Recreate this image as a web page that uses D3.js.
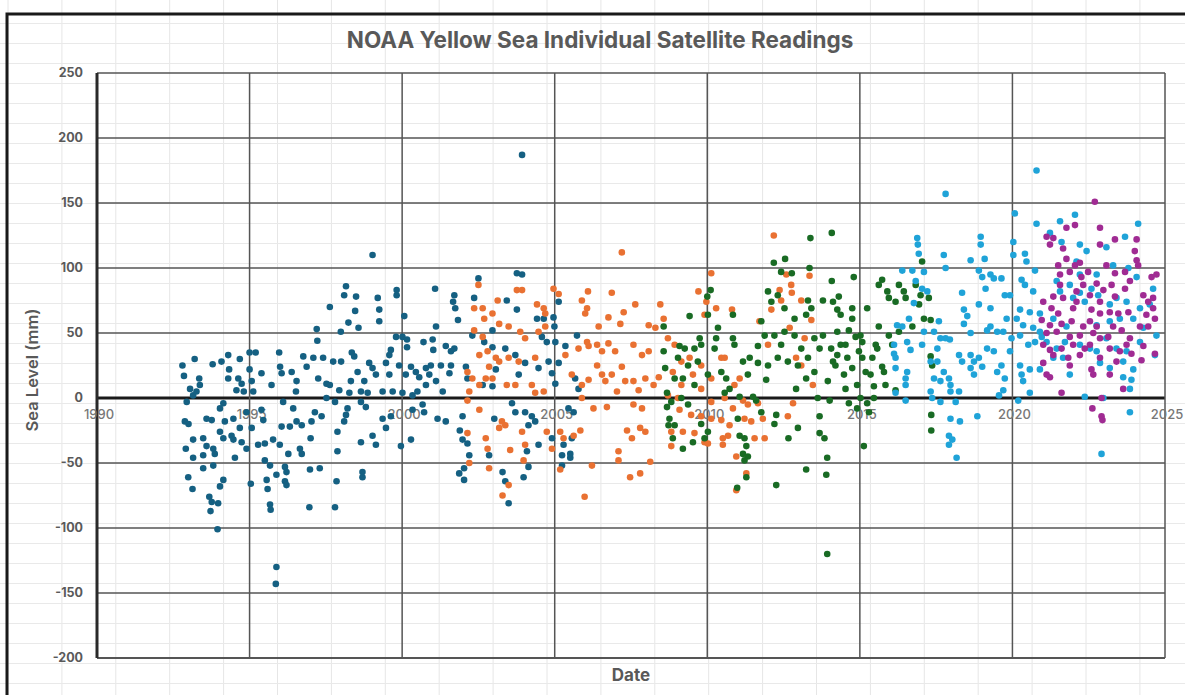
<!DOCTYPE html>
<html><head><meta charset="utf-8">
<script src="https://cdn.jsdelivr.net/npm/d3@7"></script>
<style>html,body{margin:0;padding:0;background:#fff;}svg{display:block;}</style>
</head><body>
<svg id="chart" width="1185" height="695"></svg>
<script>
// ---------- DATA (year, sea level mm) ----------
const title = "NOAA Yellow Sea Individual Satellite Readings";
const xTicks = [1990, 1995, 2000, 2005, 2010, 2015, 2020, 2025];
const yTicks = [-200, -150, -100, -50, 0, 50, 100, 150, 200, 250];

const topex = [
[1997.63,70],[1997.2,53],[1997.22,44],[1992.8,25],[1992.85,17],[1993.2,30],[1993.79,26],[1994.08,28],[1994.3,33],[1994.68,30],[1995.0,35],[1995.2,35],[1995.97,35],[1993.05,7],[1993.35,15],[1993.37,10],[1992.94,-3],[1993.15,2],[1993.26,5],[1994.33,22],[1994.3,15],[1994.63,15],[1994.74,11],[1994.57,6],[1994.81,5],[1995.0,22],[1995.07,13],[1995.12,5],[1995.39,19],[1995.72,10],[1996.0,24],[1996.05,19],[1996.38,20],[1996.54,13],[1996.52,5],[1996.76,32],[1996.87,24],[1997.09,31],[1997.41,31],[1997.25,15],[1997.52,11],[1997.63,10],[1997.74,28],[1997.52,0],[1997.8,-3],[1994.14,-4],[1994.03,-8],[1992.88,-18],[1993.0,-20],[1993.59,-16],[1993.76,-17],[1994.19,-18],[1994.47,-16],[1994.68,-23],[1994.9,-11],[1995.07,-23],[1995.39,-9],[1995.45,-17],[1996.1,-3],[1996.43,-8],[1996.54,-18],[1996.05,-22],[1996.32,-22],[1996.71,-21],[1997.03,-18],[1997.14,-11],[1997.36,-14],[1993.48,-31],[1993.15,-32],[1992.91,-39],[1993.59,-37],[1993.81,-39],[1993.86,-43],[1993.15,-46],[1993.48,-44],[1994.03,-26],[1994.14,-31],[1994.41,-29],[1994.47,-32],[1994.74,-34],[1994.9,-39],[1994.52,-46],[1995.28,-36],[1995.5,-35],[1995.77,-32],[1995.99,-36],[1996.27,-43],[1996.65,-39],[1996.71,-43],[1997.0,-31],[1993.48,-54],[1993.81,-52],[1995.5,-48],[1995.67,-52],[1996.16,-53],[1996.21,-57],[1996.98,-55],[1997.3,-54],[1992.99,-61],[1993.13,-70],[1994.14,-63],[1994.03,-68],[1995.04,-66],[1995.56,-63],[1995.59,-70],[1995.88,-59],[1996.16,-64],[1996.21,-67],[1993.68,-76],[1993.76,-80],[1993.97,-81],[1993.72,-87],[1995.67,-82],[1995.69,-86],[1996.96,-84],[1997.8,-84],[1993.95,-101],[1995.88,-130],[1995.86,-143],
[1999.03,110],[2002.5,92],[2001.08,84],[1998.16,86],[1998.1,79],[1998.49,78],[1999.2,77],[1999.25,68],[1999.25,59],[1999.82,83],[1999.82,79],[1998.46,67],[1998.24,58],[1998.57,54],[2000.07,63],[2001.71,79],[2001.67,74],[2001.74,69],[2001.83,60],[2001.11,55],[1997.99,51],[1999.8,47],[2000.01,47],[2000.16,45],[2000.16,39],[2000.7,43],[2001.0,45],[2001.02,37],[1999.63,37],[1999.58,33],[1999.47,27],[1998.35,35],[1998.43,32],[1998.0,28],[1998.92,27],[1999.03,23],[1999.14,18],[1998.54,20],[1998.32,13],[1998.76,13],[1999.58,18],[1999.9,25],[2000.12,18],[2000.29,24],[2000.45,20],[2000.56,16],[2000.78,23],[2000.94,25],[2000.89,18],[2001.27,25],[2001.6,25],[2001.55,19],[2001.43,40],[2001.6,36],[2001.71,38],[2001.11,13],[2001.33,5],[2000.78,10],[1997.94,6],[1998.27,4],[1998.65,5],[1998.87,4],[1999.36,5],[1999.69,5],[2000.01,4],[2000.34,2],[2000.5,5],[1998.65,-3],[1998.81,-7],[1998.21,-8],[1998.16,-13],[1998.1,-18],[1997.88,-26],[1997.88,-41],[1997.85,-64],[1999.36,-16],[1999.47,-23],[1999.63,-14],[2000.34,-9],[2000.67,-5],[2000.72,-11],[2001.16,-16],[2001.43,-18],[1999.03,-29],[1999.14,-36],[1998.65,-34],[1999.96,-37],[2000.29,-32],[1998.7,-57],[1998.7,-61],[2001.98,-14],[2001.89,-25],[2001.98,-32],[2002.14,-35],[2002.2,-44],[2002.03,-54],[2001.87,-58],[2002.03,-63],[2002.36,77],[2002.3,48],[2002.09,24],[2002.14,15],[2002.69,43],[2002.96,52],[2002.96,39],[2003.07,22],[2002.64,10],[2002.96,9],[2002.85,-44],[2003.02,-16],[2003.29,-57],
[2003.93,187],[2003.76,96],[2003.93,95],[2003.43,75],[2003.76,68],[2004.42,61],[2004.64,61],[2004.96,62],[2004.99,55],[2005.13,74],[2004.58,47],[2004.74,43],[2005.02,43],[2005.35,40],[2005.73,48],[2003.38,38],[2003.71,33],[2004.03,27],[2004.47,23],[2004.8,28],[2005.13,27],[2003.82,18],[2004.91,19],[2005.02,11],[2005.67,15],[2005.78,7],[2003.6,-4],[2003.71,-11],[2004.03,-11],[2004.25,-14],[2004.36,-18],[2004.14,-21],[2005.45,-8],[2005.62,-11],[2004.91,-31],[2005.29,-36],[2005.56,-31],[2004.47,-36],[2004.09,-41],[2005.24,-44],[2005.51,-46],[2005.24,-52],[2005.51,-43],[2004.14,-53],[2003.98,-61],[2003.38,-64],[2003.49,-81]
];

const jason1 = [
[2002.5,87],[2002.36,69],[2002.64,69],[2003.13,75],[2002.69,61],[2002.96,65],[2002.36,52],[2002.64,47],[2003.18,57],[2002.53,33],[2002.8,36],[2003.07,31],[2002.85,24],[2003.18,28],[2002.14,20],[2002.3,15],[2002.53,10],[2002.2,5],[2002.14,-2],[2002.53,-9],[2002.74,15],[2002.96,15],[2002.14,-27],[2002.74,-31],[2002.8,-39],[2002.2,-50],[2002.85,-54],[2003.29,-75],[2003.18,-23],
[2007.2,112],[2003.76,83],[2003.93,83],[2004.96,84],[2005.13,80],[2004.42,72],[2004.64,69],[2004.69,65],[2005.89,75],[2006.09,82],[2006.06,69],[2006.0,65],[2006.87,81],[2007.26,66],[2007.64,72],[2008.46,72],[2008.57,61],[2006.76,62],[2007.15,57],[2006.44,55],[2008.08,56],[2008.3,54],[2003.49,55],[2003.87,51],[2004.03,46],[2004.47,51],[2004.69,55],[2006.06,43],[2006.39,41],[2006.76,42],[2006.11,40],[2006.55,36],[2006.98,36],[2007.58,41],[2007.86,33],[2008.08,36],[2005.78,38],[2005.35,33],[2003.49,31],[2003.82,28],[2004.36,31],[2003.43,10],[2003.71,10],[2004.25,10],[2004.64,5],[2004.36,4],[2005.56,18],[2005.89,10],[2006.11,14],[2006.39,25],[2006.55,18],[2006.66,13],[2006.87,18],[2007.2,24],[2007.31,13],[2007.04,5],[2007.58,13],[2007.75,6],[2007.97,15],[2008.24,10],[2008.41,16],[2005.89,0],[2006.27,-8],[2006.71,-7],[2007.58,-5],[2007.86,-8],[2003.27,-18],[2003.38,-21],[2003.93,-26],[2004.74,-26],[2005.18,-26],[2005.29,-31],[2005.84,-25],[2005.62,-29],[2007.37,-25],[2007.53,-31],[2007.8,-23],[2007.97,-26],[2003.54,-40],[2004.03,-36],[2004.91,-39],[2007.09,-41],[2007.09,-48],[2006.22,-52],[2008.13,-49],[2003.98,-48],[2005.18,-55],[2007.47,-61],[2007.8,-58],[2003.49,-67],[2005.98,-76],
[2012.18,125],[2010.13,96],[2009.71,82],[2009.97,74],[2010.29,69],[2009.91,64],[2010.81,68],[2012.59,95],[2013.35,94],[2012.37,83],[2012.75,87],[2013.08,75],[2012.77,81],[2012.42,75],[2012.1,68],[2011.71,59],[2011.99,41],[2012.7,54],[2013.19,46],[2013.41,60],[2012.91,31],[2013.08,25],[2013.46,10],[2008.71,46],[2008.93,41],[2009.15,28],[2009.42,31],[2009.8,25],[2008.87,20],[2009.53,18],[2010.13,15],[2010.46,31],[2010.57,31],[2011.06,15],[2009.15,10],[2009.8,7],[2010.89,10],[2008.71,2],[2009.04,0],[2010.13,-3],[2010.57,0],[2010.84,-8],[2011.17,-2],[2011.33,-5],[2011.66,-4],[2012.81,-4],[2009.09,-9],[2009.47,-13],[2009.8,-14],[2010.13,-16],[2010.46,-17],[2010.73,-21],[2011.22,-16],[2011.44,-18],[2011.82,-16],[2012.64,-14],[2008.82,-26],[2009.2,-26],[2009.58,-27],[2009.91,-34],[2010.51,-31],[2010.68,-29],[2011.55,-31],[2011.88,-31],[2008.82,-37],[2010.02,-35],[2010.51,-36],[2010.95,-45],[2011.28,-58],[2010.95,-71]
];

const jason2 = [
[2008.57,55],[2008.57,36],[2008.62,23],[2008.68,4],[2008.68,-7],[2008.73,-21],
[2013.38,123],[2014.08,127],[2012.18,104],[2012.55,107],[2013.35,100],[2014.08,90],[2012.42,97],[2012.77,96],[2010.11,83],[2010.0,78],[2009.42,63],[2010.84,64],[2011.99,82],[2012.1,74],[2012.31,79],[2012.53,69],[2012.86,61],[2013.3,75],[2013.41,69],[2013.24,64],[2013.79,75],[2014.12,74],[2010.02,64],[2010.35,54],[2009.75,46],[2009.8,41],[2009.58,38],[2009.09,40],[2009.26,38],[2010.29,46],[2010.24,38],[2010.84,46],[2010.89,41],[2011.77,59],[2011.88,48],[2011.66,40],[2012.2,48],[2012.53,51],[2012.42,41],[2012.86,48],[2013.08,38],[2013.51,46],[2013.68,38],[2013.79,48],[2014.06,38],[2014.12,28],[2009.04,31],[2009.37,25],[2009.69,28],[2008.93,15],[2009.2,15],[2009.58,10],[2010.02,18],[2010.46,20],[2010.62,15],[2010.73,7],[2010.57,4],[2011.17,28],[2011.39,31],[2011.33,18],[2011.66,27],[2011.99,25],[2011.93,14],[2012.31,31],[2012.64,28],[2012.97,25],[2013.3,31],[2013.51,20],[2013.95,13],[2012.91,7],[2013.24,15],[2011.06,1],[2011.5,1],[2011.6,-2],[2013.62,0],[2014.01,-2],[2008.82,-3],[2009.15,0],[2009.37,-5],[2008.76,-16],[2008.93,-21],[2008.87,-31],[2009.2,-39],[2009.53,-34],[2009.8,-20],[2010.02,-26],[2009.91,-31],[2011.0,-16],[2011.06,-29],[2011.22,-31],[2011.28,-37],[2011.17,-43],[2011.33,-45],[2011.22,-48],[2011.28,-61],[2010.98,-69],[2011.77,-11],[2012.26,-13],[2012.2,-20],[2012.97,-23],[2012.66,-31],[2013.68,-14],[2013.68,-27],[2013.84,-31],[2013.93,-46],[2013.9,-59],[2013.24,-55],[2012.26,-67],[2013.93,-120],
[2017.04,105],[2014.8,93],[2015.73,91],[2015.62,87],[2015.9,82],[2015.95,77],[2016.17,74],[2016.28,87],[2016.44,82],[2016.5,77],[2016.83,87],[2016.99,79],[2017.26,77],[2016.94,72],[2014.31,78],[2014.26,68],[2014.37,64],[2014.75,69],[2014.75,61],[2015.24,69],[2014.26,51],[2014.64,52],[2014.86,47],[2014.37,41],[2014.53,41],[2015.02,48],[2015.08,43],[2015.52,41],[2015.62,55],[2015.95,48],[2016.28,51],[2016.72,55],[2017.1,61],[2017.32,60],[2014.26,33],[2014.59,31],[2014.97,36],[2015.08,31],[2015.41,31],[2015.73,24],[2015.57,38],[2016.06,41],[2014.2,25],[2014.48,18],[2014.75,23],[2015.19,20],[2015.35,18],[2015.79,20],[2014.53,7],[2014.91,10],[2015.46,9],[2015.84,10],[2016.17,6],[2014.64,-4],[2015.02,0],[2015.24,-4],[2015.3,-11],[2014.91,-8],[2015.46,0],[2015.13,-37],[2017.32,32],[2017.37,25],[2017.34,-13],[2017.34,-25]
];

const jason3 = [
[2017.81,157],[2016.88,123],[2016.9,118],[2016.93,111],[2018.96,124],[2018.96,118],[2019.09,107],[2017.75,110],[2017.81,100],[2018.63,106],[2016.39,98],[2016.72,98],[2017.1,97],[2018.9,98],[2019.01,93],[2019.28,95],[2019.39,92],[2016.83,90],[2017.04,84],[2017.21,82],[2018.35,81],[2019.12,84],[2016.77,73],[2018.41,68],[2018.52,63],[2018.41,57],[2018.9,72],[2019.28,69],[2016.22,56],[2016.39,55],[2016.61,61],[2017.1,51],[2017.43,51],[2017.59,59],[2017.81,46],[2017.64,46],[2017.95,45],[2018.63,50],[2019.17,52],[2019.28,55],[2019.5,51],[2016.12,41],[2016.55,43],[2016.66,37],[2017.04,41],[2017.54,38],[2016.12,34],[2016.17,31],[2017.32,28],[2017.54,28],[2017.75,20],[2017.92,15],[2018.25,33],[2018.35,28],[2018.63,33],[2018.74,28],[2018.9,31],[2018.63,23],[2018.74,18],[2019.01,24],[2019.17,38],[2019.39,36],[2019.5,20],[2016.17,23],[2016.55,20],[2016.5,15],[2016.5,10],[2017.43,15],[2017.64,13],[2017.97,10],[2016.17,4],[2016.5,-2],[2017.32,5],[2017.37,0],[2017.64,-3],[2017.97,5],[2018.25,5],[2018.14,-3],[2019.56,2],[2017.97,-16],[2018.28,-18],[2018.85,-14],[2017.92,-29],[2018.03,-32],[2017.92,-36],[2018.17,-46],
[2020.79,175],[2020.08,142],[2020.79,134],[2021.56,136],[2022.05,141],[2021.23,127],[2021.61,120],[2022.21,118],[2022.43,113],[2023.08,116],[2023.69,124],[2024.12,134],[2020.03,120],[2020.03,110],[2020.41,111],[2020.46,105],[2020.74,98],[2019.64,92],[2020.3,91],[2020.41,87],[2020.68,82],[2019.75,79],[2019.92,79],[2021.45,90],[2021.56,82],[2021.88,87],[2022.1,105],[2022.21,95],[2022.76,95],[2023.3,102],[2023.8,100],[2024.07,93],[2024.61,84],[2022.59,84],[2022.81,79],[2021.99,77],[2022.21,81],[2022.37,74],[2023.19,72],[2023.41,77],[2023.74,74],[2024.18,69],[2024.5,72],[2019.81,61],[2020.25,68],[2020.14,61],[2020.57,66],[2020.9,65],[2020.35,56],[2020.68,54],[2020.9,51],[2021.34,61],[2021.77,55],[2022.76,56],[2023.19,59],[2023.52,61],[2023.96,61],[2024.29,54],[2024.72,48],[2019.7,51],[2019.97,46],[2020.25,48],[2020.52,41],[2020.74,43],[2020.96,47],[2021.12,43],[2021.45,38],[2021.72,43],[2022.21,41],[2022.54,38],[2022.76,36],[2023.08,46],[2023.41,38],[2023.74,36],[2024.18,43],[2024.67,33],[2019.92,36],[2019.64,25],[2020.25,25],[2020.57,22],[2020.9,22],[2021.34,31],[2021.66,31],[2022.87,27],[2023.19,23],[2023.63,28],[2023.96,22],[2021.88,18],[2019.75,15],[2020.3,18],[2020.35,13],[2023.63,16],[2023.9,14],[2023.85,7],[2019.7,6],[2020.19,-2],[2020.57,4],[2022.37,1],[2022.98,0],[2023.85,-11],[2022.92,-43]
];

const sentinel6 = [
[2022.7,151],[2021.77,131],[2022.05,133],[2021.12,124],[2021.34,123],[2021.23,118],[2022.87,131],[2022.87,118],[2023.36,122],[2024.07,122],[2024.01,113],[2024.07,106],[2021.66,115],[2021.77,107],[2021.5,102],[2022.05,102],[2022.21,104],[2021.56,95],[2021.88,97],[2022.26,93],[2022.48,97],[2023.08,102],[2023.36,96],[2023.69,97],[2024.12,102],[2024.56,93],[2024.72,95],[2021.56,87],[2022.1,82],[2022.32,87],[2022.76,88],[2022.98,83],[2023.25,87],[2023.69,84],[2023.85,90],[2021.34,78],[2021.66,77],[2022.1,74],[2022.54,79],[2022.87,74],[2023.36,78],[2024.29,79],[2024.61,77],[2024.45,74],[2021.01,74],[2021.28,69],[2021.5,65],[2021.99,69],[2022.59,68],[2022.87,65],[2023.19,66],[2023.47,65],[2023.8,66],[2024.61,69],[2024.39,64],[2024.67,61],[2020.96,60],[2021.23,56],[2021.61,57],[2021.94,59],[2022.32,55],[2022.54,59],[2022.76,55],[2023.3,55],[2023.58,52],[2024.18,55],[2024.45,55],[2021.12,50],[2021.45,51],[2021.88,47],[2022.21,48],[2022.65,50],[2022.87,46],[2023.14,47],[2023.85,46],[2023.74,41],[2021.01,41],[2021.23,37],[2021.61,38],[2021.99,41],[2022.37,38],[2022.54,41],[2023.19,38],[2023.52,36],[2023.9,34],[2024.29,40],[2024.67,34],[2024.23,29],[2021.01,27],[2021.34,33],[2021.83,31],[2022.21,33],[2022.87,31],[2023.41,28],[2021.12,18],[2021.23,16],[2021.88,25],[2022.59,22],[2022.65,18],[2023.19,18],[2023.63,7],[2021.61,4],[2022.92,0],[2022.62,-8],[2022.92,-14],[2022.95,-17]
];

// ---------- DRAWING ----------
const W = 1185, H = 695;
const svg = d3.select("#chart");
const x = d3.scaleLinear().domain([1990, 2025]).range([97, 1165]);
const y = d3.scaleLinear().domain([-200, 250]).range([658, 73]);
const textCol = "#595959";
const font = "Inter, 'Liberation Sans', Arial, sans-serif";

// spreadsheet cell grid behind the chart
const bg = svg.append("g");
bg.selectAll("line.v").data(d3.range(8, W, 53.9)).join("line")
  .attr("x1", d => d).attr("x2", d => d).attr("y1", 0).attr("y2", H)
  .attr("stroke", "#e6e6e6").attr("stroke-width", 1);
bg.selectAll("line.h").data(d3.range(23.5, H, 20)).join("line")
  .attr("x1", 0).attr("x2", W).attr("y1", d => d).attr("y2", d => d)
  .attr("stroke", "#e9e9e9").attr("stroke-width", 1);

// chart frame
svg.append("path").attr("d", "M7,700 V14 H1190")
  .attr("fill", "none").attr("stroke", "#1a1a1a").attr("stroke-width", 3);

// title
svg.append("text").attr("x", 600).attr("y", 48).attr("text-anchor", "middle")
  .attr("font-family", font).attr("font-weight", 700).attr("font-size", 22.5)
  .attr("fill", textCol).text(title);

// gridlines
const grid = svg.append("g");
grid.selectAll("line.gy").data(yTicks).join("line")
  .attr("x1", x(1990)).attr("x2", x(2025))
  .attr("y1", d => y(d)).attr("y2", d => y(d))
  .attr("stroke", d => d === 0 ? "#1a1a1a" : "#555")
  .attr("stroke-width", d => d === 0 ? 3.2 : (d === -200 ? 2 : 1.5));
grid.selectAll("line.gx").data(xTicks).join("line")
  .attr("x1", d => x(d)).attr("x2", d => x(d))
  .attr("y1", y(250)).attr("y2", y(-200))
  .attr("stroke", d => d === 1990 ? "#2a2a2a" : "#555")
  .attr("stroke-width", d => d === 1990 ? 3 : 1.5);

// y tick labels
svg.append("g").selectAll("text").data(yTicks).join("text")
  .attr("x", 83).attr("y", d => y(d)).attr("dy", "0.35em")
  .attr("text-anchor", "end").attr("font-family", font).attr("font-weight", 700)
  .attr("font-size", 12.5).attr("fill", textCol).text(d => d);

// x tick labels (below zero line)
svg.append("g").selectAll("text").data(xTicks).join("text")
  .attr("x", d => x(d) + 2).attr("y", y(0) + 21)
  .attr("text-anchor", "middle").attr("font-family", font).attr("font-weight", 500)
  .attr("font-size", 13).attr("fill", "#777").text(d => d);

// axis titles
svg.append("text").attr("transform", "translate(38,370) rotate(-90)")
  .attr("text-anchor", "middle").attr("font-family", font).attr("font-weight", 600)
  .attr("font-size", 16.5).attr("fill", textCol).text("Sea Level (mm)");
svg.append("text").attr("x", 631).attr("y", 681).attr("text-anchor", "middle")
  .attr("font-family", font).attr("font-weight", 700).attr("font-size", 17)
  .attr("fill", textCol).text("Date");

// series
const series = [
  {data: topex, color: "#156082"},
  {data: jason1, color: "#E97132"},
  {data: jason2, color: "#196B24"},
  {data: jason3, color: "#1FA3D8"},
  {data: sentinel6, color: "#A02B93"}
];
const pts = svg.append("g");
series.forEach(s => {
  pts.append("g").selectAll("circle").data(s.data).join("circle")
    .attr("cx", d => x(d[0])).attr("cy", d => y(d[1])).attr("r", 3.3)
    .attr("fill", s.color);
});
</script>
</body></html>
